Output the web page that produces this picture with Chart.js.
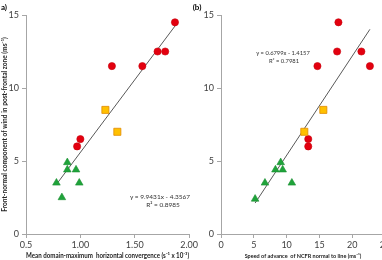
<!DOCTYPE html>
<html><head><meta charset="utf-8">
<script src="https://cdn.jsdelivr.net/npm/chart.js@4"></script>
<style>
html,body{margin:0;padding:0;width:382px;height:260px;overflow:hidden;background:#fff;font-family:Lato,"Liberation Sans",sans-serif;}
.c{position:absolute;top:0;}
.t{position:absolute;color:#333;white-space:nowrap;transform:translate(-50%,-50%);}
</style></head><body>
<div class="c" style="left:0;width:200px;height:260px;"><canvas id="ca"></canvas></div>
<div class="c" style="left:195px;width:200px;height:260px;"><canvas id="cb"></canvas></div>
<div class="t" style="left:4px;top:7px;font-weight:bold;font-size:8px;color:#000;">a)</div>
<div class="t" style="left:197px;top:7px;font-weight:bold;font-size:8px;color:#000;">(b)</div>
<div class="t" style="left:160px;top:196px;font-size:6.5px;">y = 9.9431x - 4.3567</div>
<div class="t" style="left:163px;top:204px;font-size:6.5px;">R² = 0.8985</div>
<div class="t" style="left:283px;top:52px;font-size:5.8px;">y = 0.6799x - 1.4157</div>
<div class="t" style="left:284px;top:60px;font-size:5.8px;">R² = 0.7981</div>
<script>
// Panel (a): mean domain-maximum horizontal convergence vs front-normal wind
const aRedX = [1.29, 1.57, 1.71, 1.78, 1.87, 1.00, 0.97];
const aRedY = [11.5, 11.5, 12.5, 12.5, 14.5, 6.5, 6.0];
const aOrangeX = [1.23, 1.34];
const aOrangeY = [8.5, 7.0];
const aGreenX = [0.88, 0.88, 0.96, 0.78, 0.99, 0.83];
const aGreenY = [4.9, 4.4, 4.4, 3.5, 3.5, 2.5];
const aTrendX = [0.78, 1.88];
const aTrendY = [3.40, 14.34];
const aXTicks = ['0.5', '1.00', '1.50', '2.00'];

// Panel (b): speed of advance of NCFR vs front-normal wind
const bRedX = [17.9, 17.7, 21.4, 14.7, 22.7, 13.3, 13.3];
const bRedY = [14.5, 12.5, 12.5, 11.5, 11.5, 6.5, 6.0];
const bOrangeX = [15.6, 12.7];
const bOrangeY = [8.5, 7.0];
const bGreenX = [9.1, 8.3, 9.4, 6.7, 10.8, 5.2];
const bGreenY = [4.9, 4.4, 4.4, 3.5, 3.5, 2.4];
const bTrendX = [5.2, 22.7];
const bTrendY = [2.12, 14.02];
const bXTicks = ['0', '5', '10', '15', '20', '25'];

const yTicks = ['0', '5', '10', '15'];

const pts = (xs, ys) => xs.map((x, i) => ({x: x, y: ys[i]}));
const AX = '#a6a6a6';
const TF = {family: 'Lato, "Liberation Sans", sans-serif', size: 9};

function makeChart(id, d, xmin, xmax, xstep, xTicks, xTitle, xTitleSize, yTitle, padRight) {
  const datasets = [
    {type: 'line', data: pts(d.tx, d.ty), borderColor: '#595959', borderWidth: 1, pointRadius: 0, fill: false, order: 5},
    {data: pts(d.gx, d.gy), pointStyle: 'triangle', pointRadius: 4.4, backgroundColor: '#1fa33a', borderColor: '#1b8f33', borderWidth: 0.6},
    {data: pts(d.ox, d.oy), pointStyle: 'rect', pointRadius: 5, backgroundColor: '#ffc000', borderColor: '#e08a00', borderWidth: 0.8},
    {data: pts(d.rx, d.ry), pointStyle: 'circle', pointRadius: 3.6, backgroundColor: '#e3000f', borderColor: '#c8000c', borderWidth: 0.6}
  ];
  return new Chart(document.getElementById(id), {
    type: 'scatter',
    data: {datasets: datasets},
    options: {
      responsive: true, maintainAspectRatio: false, animation: false,
      layout: {padding: {top: 15, right: padRight, left: 0, bottom: 0}},
      plugins: {legend: {display: false}, tooltip: {enabled: false}},
      scales: {
        x: {
          type: 'linear', min: xmin, max: xmax,
          afterBuildTicks: (ax) => { ax.ticks = xTicks.map((t, i) => ({value: xmin + i * xstep})); },
          afterFit: (ax) => { ax.height = 26; },
          ticks: {callback: (v, i) => xTicks[i], font: TF, color: '#404040', padding: 2, maxRotation: 0, autoSkip: false},
          grid: {drawOnChartArea: false, color: AX, tickLength: 4},
          border: {color: AX},
          title: {display: true, text: xTitle, font: {family: TF.family, size: xTitleSize, weight: 'bold'}, color: '#222', padding: {top: 0, bottom: 0}}
        },
        y: {
          type: 'linear', min: 0, max: 15,
          afterBuildTicks: (ax) => { ax.ticks = yTicks.map((t, i) => ({value: i * 5})); },
          afterFit: (ax) => { ax.width = 26; },
          ticks: {callback: (v, i) => yTicks[i], font: TF, color: '#404040', padding: 3, autoSkip: false},
          grid: {drawOnChartArea: false, color: AX, tickLength: 4},
          border: {color: AX},
          title: {display: !!yTitle, text: yTitle, font: {family: TF.family, size: 6.6, weight: 'bold'}, color: '#222', padding: {top: 1, bottom: 0}}
        }
      }
    }
  });
}

makeChart('ca', {rx: aRedX, ry: aRedY, ox: aOrangeX, oy: aOrangeY, gx: aGreenX, gy: aGreenY, tx: aTrendX, ty: aTrendY},
  0.5, 2.0, 0.5, aXTicks, 'Mean domain-maximum  horizontal convergence (s\u207B\u00B9 x 10\u207B\u00B3)', 7,
  'Front-normal component of wind in post-frontal zone (ms\u207B\u00B9)', 8);
makeChart('cb', {rx: bRedX, ry: bRedY, ox: bOrangeX, oy: bOrangeY, gx: bGreenX, gy: bGreenY, tx: bTrendX, ty: bTrendY},
  0, 25, 5, bXTicks, 'Speed of advance  of NCFR normal to line (ms\u207B\u00B9)', 5.5,
  '', 10);
</script>
</body></html>
